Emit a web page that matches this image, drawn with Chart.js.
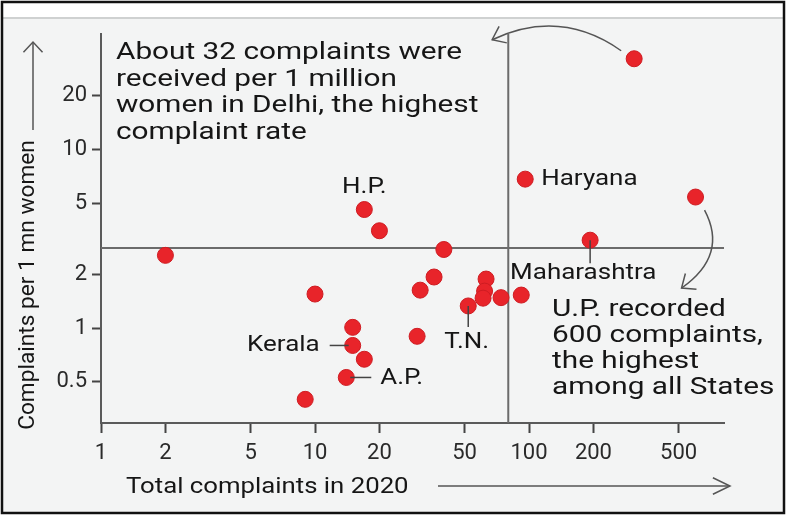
<!DOCTYPE html>
<html>
<head>
<meta charset="utf-8">
<script src="https://cdn.jsdelivr.net/npm/chart.js@4/dist/chart.umd.min.js"></script>
<style>
  html, body { margin: 0; padding: 0; background: #fff; }
</style>
</head>
<body>
<canvas id="chart" width="786" height="515"></canvas>
<script>
// Data (log-log scatter)
const totalComplaints = [310, 96, 600, 193, 17, 20, 40, 2, 36, 31, 10, 63, 62, 61, 74, 92, 52, 15, 15, 17, 14, 9, 30];
const complaintRate = [32, 6.8, 5.4, 3.1, 4.6, 3.5, 2.75, 2.55, 1.93, 1.63, 1.55, 1.88, 1.61, 1.47, 1.48, 1.53, 1.33, 1.01, 0.8, 0.67, 0.53, 0.4, 0.9];
const states = ["Delhi", "Haryana", "U.P.", "Maharashtra", "H.P.", "", "", "", "", "", "", "", "", "", "", "", "T.N.", "", "Kerala", "", "A.P.", "", ""];
const xTicks = [1, 2, 5, 10, 20, 50, 100, 200, 500];
const yTicks = [0.5, 1, 2, 5, 10, 20];
const refTotal = 80;   // vertical guide
const refRate = 2.8;   // horizontal guide

const delhiNote = ["About 32 complaints were", "received per 1 million", "women in Delhi, the highest", "complaint rate"];
const upNote = ["U.P. recorded", "600 complaints,", "the highest", "among all States"];

const TXT = "#161616";
const LINE = "#6b6b6b";

function wideText(ctx, str, x, y, align, size, sx) {
  ctx.save();
  ctx.font = size + "px Roboto";
  ctx.fillStyle = TXT;
  ctx.textAlign = align;
  ctx.textBaseline = "middle";
  ctx.translate(x, y);
  ctx.scale(sx || 1.24, 1);
  ctx.fillText(str, 0, 0);
  ctx.restore();
}

function seg(ctx, x1, y1, x2, y2) {
  ctx.beginPath();
  ctx.moveTo(x1, y1);
  ctx.lineTo(x2, y2);
  ctx.stroke();
}

// open chevron at (tx,ty) pointing along angle a
function head(ctx, tx, ty, a, len, spread) {
  ctx.beginPath();
  ctx.moveTo(tx + len * Math.cos(a + Math.PI - spread), ty + len * Math.sin(a + Math.PI - spread));
  ctx.lineTo(tx, ty);
  ctx.lineTo(tx + len * Math.cos(a + Math.PI + spread), ty + len * Math.sin(a + Math.PI + spread));
  ctx.stroke();
}

function pt(chart, i) {
  return {
    x: chart.scales.x.getPixelForValue(totalComplaints[i]),
    y: chart.scales.y.getPixelForValue(complaintRate[i])
  };
}

const decor = {
  id: "decor",
  beforeDraw(chart) {
    const ctx = chart.ctx;
    ctx.save();
    ctx.fillStyle = "#fff";
    ctx.fillRect(0, 0, 786, 515);
    ctx.fillStyle = "#f3f4f4";
    ctx.fillRect(3, 18, 780, 494);
    ctx.strokeStyle = "#cfd1d1";
    ctx.lineWidth = 2;
    seg(ctx, 3, 18, 783, 18);
    ctx.strokeStyle = "#111";
    ctx.lineWidth = 2.5;
    ctx.strokeRect(2, 2, 782, 511);
    ctx.restore();
  },
  beforeDatasetsDraw(chart) {
    const ctx = chart.ctx, a = chart.chartArea;
    const gx = chart.scales.x.getPixelForValue(refTotal);
    const gy = chart.scales.y.getPixelForValue(refRate);
    ctx.save();
    ctx.strokeStyle = LINE;
    ctx.lineWidth = 2;
    seg(ctx, a.left, gy, a.right, gy);
    seg(ctx, gx, a.top, gx, a.bottom);
    ctx.restore();
  },
  afterDatasetsDraw(chart) {
    const ctx = chart.ctx, a = chart.chartArea;
    ctx.save();
    ctx.strokeStyle = "#444";
    ctx.lineWidth = 1.5;

    // point labels
    let p = pt(chart, 4);
    wideText(ctx, states[4], p.x, p.y - 22, "center", 22, 1.18);
    p = pt(chart, 1);
    wideText(ctx, states[1], p.x + 16, p.y, "left", 22, 1.18);
    p = pt(chart, 3);
    seg(ctx, p.x, p.y, p.x, p.y + 23);
    wideText(ctx, states[3], p.x - 80, p.y + 33, "left", 22, 1.18);
    p = pt(chart, 16);
    seg(ctx, p.x, p.y, p.x, p.y + 21);
    wideText(ctx, states[16], p.x - 24, p.y + 37, "left", 22, 1.18);
    p = pt(chart, 18);
    seg(ctx, p.x - 23, p.y, p.x - 4, p.y);
    wideText(ctx, states[18], p.x - 33, p.y, "right", 22, 1.18);
    p = pt(chart, 20);
    seg(ctx, p.x + 4, p.y, p.x + 25, p.y);
    wideText(ctx, states[20], p.x + 34, p.y + 1, "left", 22, 1.18);

    // notes
    delhiNote.forEach((s, i) => wideText(ctx, s, a.left + 15, a.top + 19 + i * 26.5, "left", 24));
    upNote.forEach((s, i) => wideText(ctx, s, a.left + 451, a.top + 276 + i * 26, "left", 24));

    // curved arrows
    ctx.strokeStyle = "#555";
    ctx.lineWidth = 1.5;
    p = pt(chart, 0);
    let s = { x: p.x - 13, y: p.y - 8 }, c = { x: p.x - 74, y: p.y - 51 }, t = { x: p.x - 142, y: p.y - 19 };
    ctx.beginPath(); ctx.moveTo(s.x, s.y); ctx.quadraticCurveTo(c.x, c.y, t.x, t.y); ctx.stroke();
    head(ctx, t.x, t.y, Math.atan2(t.y - c.y, t.x - c.x), 15, 0.65);
    p = pt(chart, 2);
    s = { x: p.x + 9, y: p.y + 13 }; c = { x: p.x + 33, y: p.y + 58 }; t = { x: p.x - 14, y: p.y + 91 };
    ctx.beginPath(); ctx.moveTo(s.x, s.y); ctx.quadraticCurveTo(c.x, c.y, t.x, t.y); ctx.stroke();
    head(ctx, t.x, t.y, Math.atan2(t.y - c.y, t.x - c.x), 15, 0.7);

    // axis titles with arrows
    ctx.save();
    ctx.translate(28, 285);
    ctx.rotate(-Math.PI / 2);
    ctx.font = "22px Roboto";
    ctx.fillStyle = TXT;
    ctx.textAlign = "center";
    ctx.textBaseline = "middle";
    ctx.scale(1.03, 1);
    ctx.fillText("Complaints per 1 mn women", 0, 0);
    ctx.restore();
    seg(ctx, 33, 130, 33, 42);
    head(ctx, 33, 42, -Math.PI / 2, 14, 0.75);

    ctx.save();
    ctx.translate(126, 487);
    ctx.font = "22px Roboto";
    ctx.fillStyle = TXT;
    ctx.textBaseline = "middle";
    ctx.scale(1.17, 1);
    ctx.fillText("Total complaints in 2020", 0, 0);
    ctx.restore();
    seg(ctx, 438, 486, 730, 486);
    head(ctx, 730, 486, 0, 19, 0.45);

    ctx.restore();
  }
};

new Chart(document.getElementById("chart"), {
  type: "scatter",
  data: {
    labels: states,
    datasets: [{
      data: totalComplaints.map((v, i) => ({ x: v, y: complaintRate[i] })),
      backgroundColor: "#e8242a",
      borderColor: "#cf1c22",
      borderWidth: 1,
      pointRadius: 8,
      pointHoverRadius: 8
    }]
  },
  options: {
    responsive: false,
    animation: false,
    layout: { padding: { top: 34, right: 62, left: 0, bottom: 0 } },
    plugins: { legend: { display: false }, tooltip: { enabled: false } },
    scales: {
      x: {
        type: "logarithmic",
        min: 1,
        max: 815,
        afterFit: (s) => { s.height = 92; },
        afterBuildTicks: (s) => { s.ticks = xTicks.map(v => ({ value: v })); },
        border: { display: true, color: "#5a5a5a", width: 2 },
        grid: { drawOnChartArea: false, tickLength: 10, tickColor: "#444", tickWidth: 2 },
        ticks: {
          autoSkip: false, maxRotation: 0, padding: 7, color: "#2a2a2a",
          font: { family: "Roboto", size: 22 },
          callback: (v) => String(v)
        }
      },
      y: {
        type: "logarithmic",
        min: 0.295,
        max: 44,
        afterFit: (s) => { s.width = 101; },
        afterBuildTicks: (s) => { s.ticks = yTicks.map(v => ({ value: v })); },
        border: { display: true, color: "#5a5a5a", width: 2 },
        grid: { drawOnChartArea: false, tickLength: 9, tickColor: "#444", tickWidth: 2 },
        ticks: {
          autoSkip: false, padding: 5, color: "#2a2a2a",
          font: { family: "Roboto", size: 22 },
          callback: (v) => String(v)
        }
      }
    }
  },
  plugins: [decor]
});
</script>
</body>
</html>
